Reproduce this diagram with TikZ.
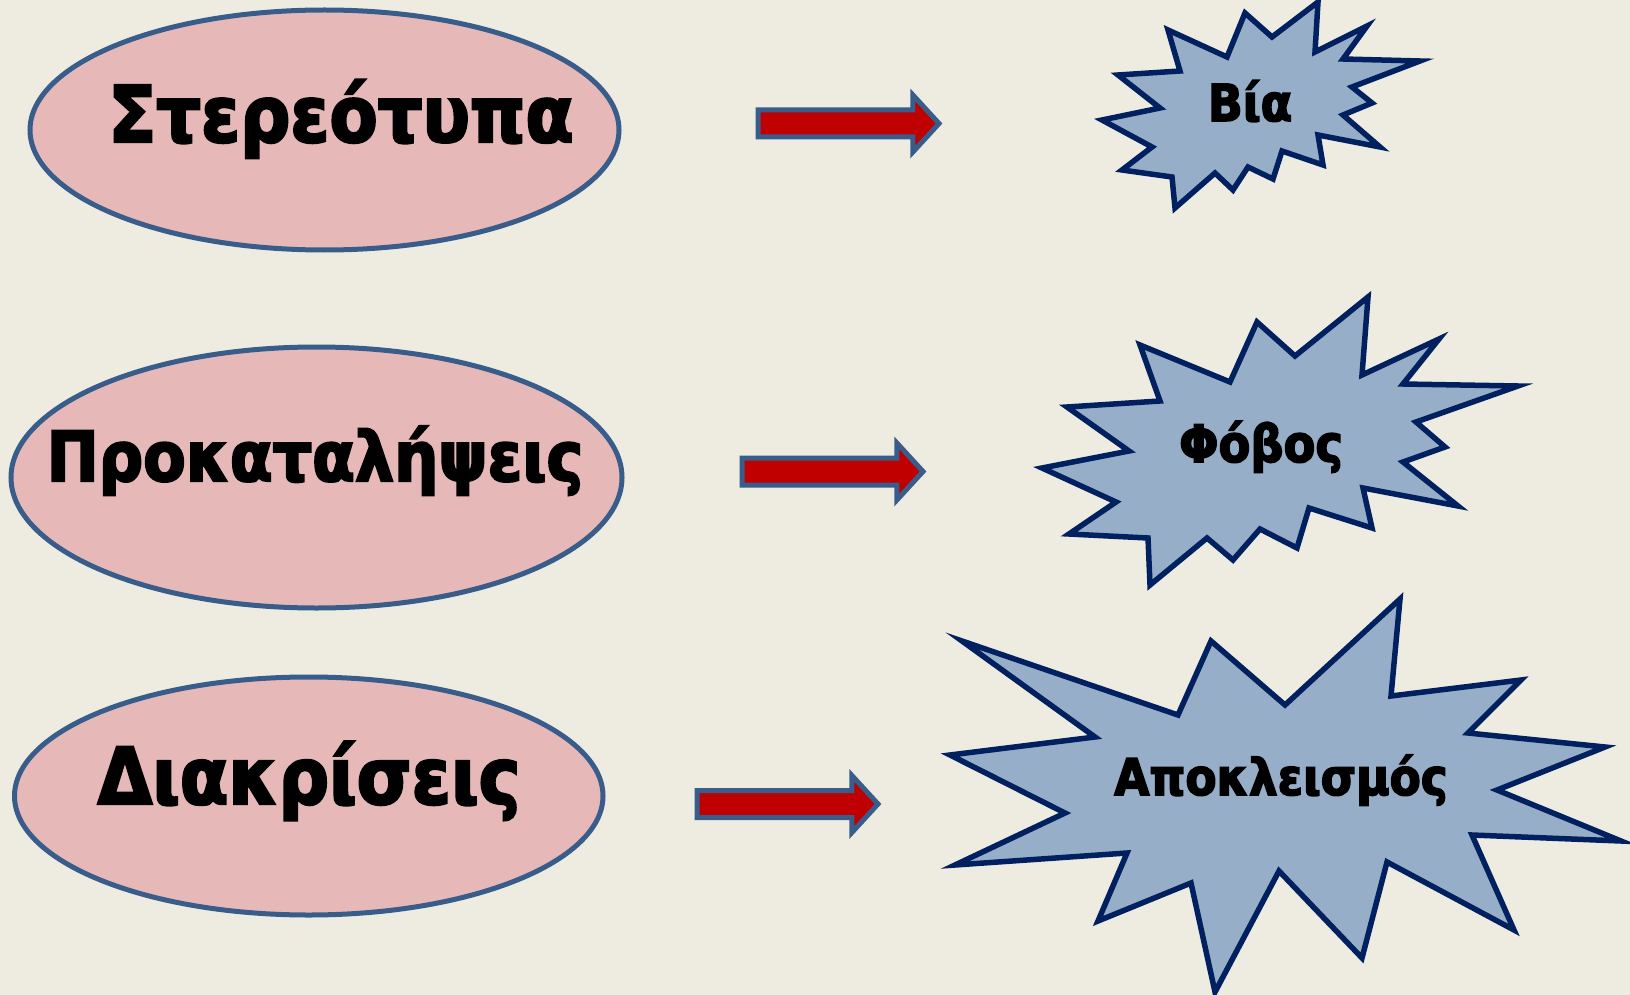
\documentclass[tikz,border=0pt]{standalone}
\usepackage{fontspec}
\setmainfont{DejaVu Sans}[BoldFeatures={FakeBold=3, FakeStretch=0.9}]
\usetikzlibrary{shapes.geometric, shapes.arrows}
\definecolor{paper}{HTML}{EEECE1}
\definecolor{ovalfill}{HTML}{E6B9B8}
\definecolor{ovalline}{HTML}{385D8A}
\definecolor{burstfill}{RGB}{151,174,200}
\definecolor{burstline}{HTML}{002060}
\definecolor{arrowred}{HTML}{C00000}

\begin{document}
\begin{tikzpicture}[x=1pt,y=-1pt,
    oval/.style={ellipse, draw=ovalline, fill=ovalfill, line width=5pt, inner sep=0pt},
    burst/.style={draw=burstline, fill=burstfill, line width=5.5pt, line join=miter},
    push/.style={single arrow, draw=ovalline, fill=arrowred, line width=5pt, inner xsep=0pt,
        inner ysep=11pt, minimum height=181pt, single arrow head extend=15pt,
        single arrow tip angle=95, anchor=tail},
    word/.style={anchor=base, inner sep=0pt, font=\bfseries\fontsize{#1}{#1}\selectfont}]
        \path[use as bounding box, fill=paper] (0,0) rectangle (1630,995);

        \node[oval, minimum width=589pt, minimum height=240pt] (ster) at (324.5,130) {};
        \node[oval, minimum width=611pt, minimum height=261pt] (prok) at (316.5,477.5) {};
        \node[oval, minimum width=588.5pt, minimum height=238pt] (diak) at (308.75,796) {};
        \node[word=78] (sterw) at (341,142) {Στερεότυπα};
        \node[word=69] (prokw) at (315,481) {Προκαταλήψεις};
        \node[word=78.5] (diakw) at (309,804) {Διακρίσεις};

        \node[push] (a1) at (755.5,123.5) {};
        \node[push] (a2) at (739.5,471.5) {};
        \node[push] (a3) at (694.5,804) {};

        \draw[burst] (1318,2) -- (1315,52) -- (1367,26) -- (1343,59) -- (1420,61) -- (1352,87)
            -- (1372,103) -- (1343,115) -- (1380,147) -- (1318,135) -- (1323,165) -- (1282,151)
            -- (1273,179) -- (1248,167) -- (1233,190) -- (1215,173) -- (1175,208) -- (1172,177)
            -- (1122,170) -- (1152,147) -- (1102,120) -- (1160,108) -- (1118,75) -- (1180,71)
            -- (1168,30) -- (1227,57) -- (1245,13) -- (1272,37) -- cycle;
        \draw[burst] (1368,297) -- (1362,375) -- (1439,339) -- (1403,384) -- (1518,386) -- (1416,422)
            -- (1445,447) -- (1403,462) -- (1458,506) -- (1363,488) -- (1372,528) -- (1309,508)
            -- (1297,548) -- (1260,529) -- (1233,560) -- (1207,538) -- (1150,585) -- (1148,538)
            -- (1069,534) -- (1116,502) -- (1042,468) -- (1129,451) -- (1067,407) -- (1160,401)
            -- (1140,345) -- (1230,382) -- (1257,322) -- (1295,356) -- cycle;
        \draw[burst] (1400,599) -- (1391,696) -- (1521,680) -- (1468,733) -- (1605,747) -- (1497,790)
            -- (1621,841) -- (1472,835) -- (1514,930) -- (1387,862) -- (1362,958) -- (1279,871)
            -- (1215,992) -- (1191,883) -- (1098,921) -- (1127,853) -- (955,865) -- (1065,813)
            -- (950,755) -- (1095,737) -- (962,641) -- (1178,715) -- (1211,641) -- (1285,705) -- cycle;
        \node[word=51] (via) at (1250,121) {Βία};
        \node[word=51.5] (fovos) at (1261,462) {Φόβος};
        \node[word=50.5] (apokl) at (1281,795) {Αποκλεισμός};
    \end{tikzpicture}
\end{document}
